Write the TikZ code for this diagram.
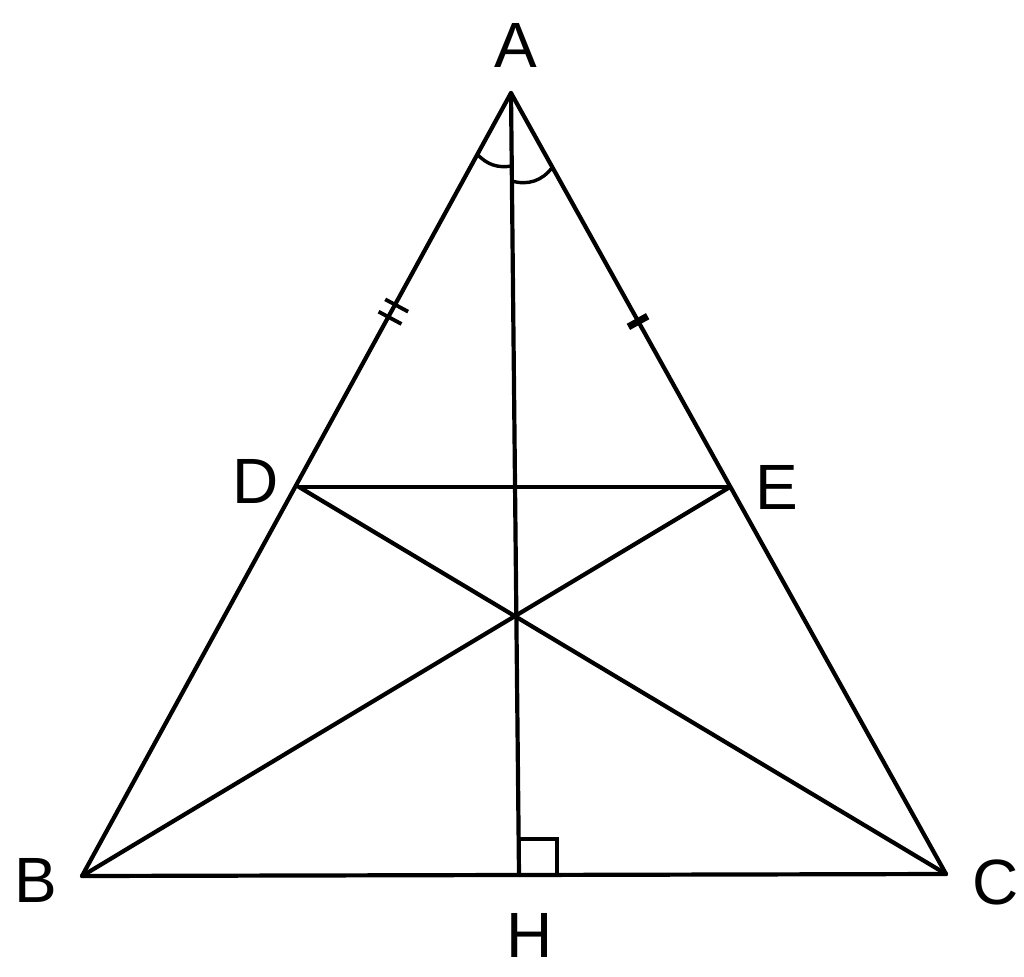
\documentclass[tikz,border=0pt]{standalone}
\usepackage{fontspec}
\setmainfont{Liberation Sans}
\usetikzlibrary{calc}
\begin{document}
\begin{tikzpicture}[x=1pt,y=-1pt,
  seg/.style={line width=4.2pt,line cap=round,line join=round},
  thin/.style={line width=3.4pt},
  lbl/.style={font=\fontsize{64}{70}\selectfont,inner sep=0pt}]
\useasboundingbox (0,0) rectangle (1024,976);
\coordinate (A) at (511,93);
\coordinate (B) at (82,876);
\coordinate (C) at (946,874);
\coordinate (H) at (519,875);
\coordinate (D) at (299,487);
\coordinate (E) at (730,487);
\coordinate (O) at (514,617);
% sides
\draw[seg] (A) -- (B) -- (C) -- cycle;
\draw[seg] (D) -- (E);
\draw[seg] (D) -- (C);
\draw[seg] (E) -- (B);
\draw[seg] (A) -- (H);
% right angle
\draw[thin] ($(H)+(0,-36)$) -- ($(H)+(38,-36)$) -- ($(H)+(38,0)$);
% angle arcs at A
\draw[thin] ($(A)!70pt!(B)$) to[bend right=28] ($(A)!73pt!(H)$);
\draw[thin] ($(A)!88pt!(H)$) to[bend right=35] ($(A)!85pt!(C)$);
% tick marks
\coordinate (T1) at ($(A)!0.555!(D)$);
\draw[line width=3.8pt] ($(T1)!7pt!(A)!13pt!90:(A)$) -- ($(T1)!7pt!(A)!13pt!-90:(A)$);
\draw[line width=3.8pt] ($(T1)!7pt!(D)!13pt!90:(D)$) -- ($(T1)!7pt!(D)!13pt!-90:(D)$);
\coordinate (T2) at ($(A)!0.58!(E)$);
\draw[line width=7pt] ($(T2)!11pt!90:(E)$) -- ($(T2)!11pt!-90:(E)$);
% labels
\node[lbl] (la) at (516,45) {A};
\node[lbl] (lb) at (36,880) {B};
\node[lbl] (lc) at (996,882) {C};
\node[lbl] (ld) at (256,481) {D};
\node[lbl] (le) at (777,487) {E};
\node[lbl] (lh) at (530,935) {H};
\end{tikzpicture}
\end{document}
